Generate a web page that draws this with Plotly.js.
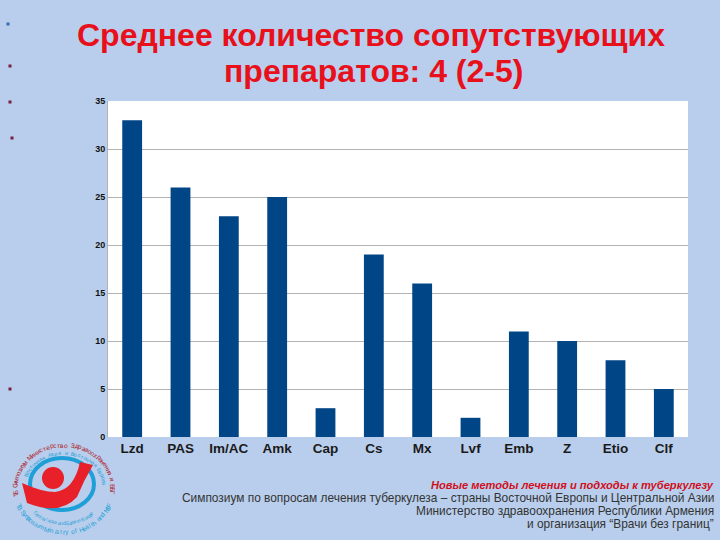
<!DOCTYPE html>
<html><head><meta charset="utf-8">
<script src="https://cdn.plot.ly/plotly-3.0.1.min.js"></script>
<style>html,body{margin:0;padding:0;background:#B8CEEC}</style></head>
<body><div id="chart" style="width:720px;height:540px"></div>
<script>
const categories = ["Lzd","PAS","Im/AC","Amk","Cap","Cs","Mx","Lvf","Emb","Z","Etio","Clf"];
const values = [33,26,23,25,3,19,16,2,11,10,8,5];
const yTicks = [0,5,10,15,20,25,30,35];
const titleLines = ["Среднее количество сопутствующих","препаратов: 4 (2-5)"];
const footerRed = "Новые методы лечения и подходы к туберкулезу";
const footerLines = ["Симпозиум по вопросам лечения туберкулеза – страны Восточной Европы и Центральной Азии",
  "Министерство здравоохранения Республики Армения","и организация “Врачи без границ”"];
const bulletsY = [24,66,102,138,389];
const bulletsX = [8,10,10,12,10];
const bulletsC = ["#2E6DB4","#7A1F3D","#7A1F3D","#7A1F3D","#7A1F3D"];
const logoTop = "ТБ Симпозиум Министерство Здравоохранения и ВБГ";
const logoInner = "Восточная Азия и Восточная Европа";
const logoBottom = "TB Symposium Ministry of Health and MSF";
const logoBottomInner = "Central Asia and Eastern Europe";

const W=720,H=540,L=108,R=688,T=101,B=437;
const fx=x=>(x-L)/(R-L), fy=y=>(B-y)/(B-T);
const shapes=[], annotations=[];
bulletsY.forEach((y,i)=>shapes.push({type:"rect",xref:"paper",yref:"paper",x0:fx(bulletsX[i]-1.5),x1:fx(bulletsX[i]+1.5),y0:fy(y+1.5),y1:fy(y-1.5),fillcolor:bulletsC[i],line:{width:0}}));
function ell(cx,cy,rx,ry,opt){shapes.push(Object.assign({type:"circle",xref:"paper",yref:"paper",x0:fx(cx-rx),x1:fx(cx+rx),y0:fy(cy+ry),y1:fy(cy-ry)},opt));}
ell(62,484,32,26,{fillcolor:"rgba(0,0,0,0)",line:{color:"#1E9FD8",width:4}});
ell(53,478,11,11,{fillcolor:"#E8202A",line:{width:0}});
shapes.push({type:"path",xref:"paper",yref:"paper",
  path:"M"+fx(22)+","+fy(483)+" L"+fx(27)+","+fy(503)+" Q"+fx(60)+","+fy(516)+" "+fx(77)+","+fy(497)+" Q"+fx(84)+","+fy(480)+" "+fx(93)+","+fy(465)+" L"+fx(80)+","+fy(462)+" Q"+fx(74)+","+fy(490)+" "+fx(55)+","+fy(492)+" Q"+fx(42)+","+fy(492)+" "+fx(22)+","+fy(483)+" Z",
  fillcolor:"#E8202A",line:{width:0}});
function arc(text,cx,cy,rx,ry,a0,a1,color,size,flip){
  const n=text.length;
  [...text].forEach((c,i)=>{
    const a=a0+(a1-a0)*(i+0.5)/n, rad=a*Math.PI/180;
    const x=cx+rx*Math.sin(rad), y=cy-ry*Math.cos(rad);
    annotations.push({xref:"paper",yref:"paper",x:fx(x),y:fy(y),text:c,showarrow:false,textangle:flip?a-180:a,
      xanchor:"center",yanchor:"middle",font:{family:"Liberation Sans",size:size,color:color}});
  });
}
arc(logoTop,64,488,49,43,-102,98,"#B0202A",6.5,false);
arc(logoInner,64,488,41,35,-70,85,"#1E9FD8",5.5,false);
arc(logoBottom,64,488,49,44,248,112,"#1E9FD8",6.5,true);
arc(logoBottomInner,64,488,40,35,225,135,"#1E9FD8",5,true);

const titleX=[371,373], titleY=[35,71];
titleLines.forEach((t,i)=>annotations.push({xref:"paper",yref:"paper",x:fx(titleX[i]),y:fy(titleY[i]),text:"<b>"+t+"</b>",showarrow:false,xanchor:"center",yanchor:"middle",
  font:{family:"Liberation Sans",size:32,color:"#E8101A"}}));
annotations.push({xref:"paper",yref:"paper",x:fx(716),y:fy(485),text:"<b><i>"+footerRed+"</i></b>",showarrow:false,xanchor:"right",yanchor:"middle",font:{family:"Liberation Sans",size:11.1,color:"#D0101C"}});
footerLines.forEach((t,i)=>annotations.push({xref:"paper",yref:"paper",x:fx(716),y:fy(498+13*i),text:t,showarrow:false,xanchor:"right",yanchor:"middle",font:{family:"Liberation Sans",size:11.9,color:"#333333"}}));

Plotly.newPlot("chart",[{type:"bar",x:categories,y:values,marker:{color:"#004586",line:{width:0}},width:0.41,hoverinfo:"skip"}],{
  width:W,height:H,margin:{l:L,r:W-R,t:T,b:H-B,pad:0},
  paper_bgcolor:"#B8CEEC",plot_bgcolor:"#FFFFFF",showlegend:false,
  xaxis:{type:"category",categoryorder:"array",categoryarray:categories,ticks:"",showgrid:false,showline:false,automargin:false,
    tickvals:categories,ticktext:categories.map(c=>"<b>"+c+"</b>"),
    tickfont:{family:"Liberation Sans",size:13.5,color:"#1a1a1a"},ticklabelstandoff:1},
  yaxis:{range:[0,35],tickvals:yTicks,ticktext:yTicks.map(v=>"<b>"+v+"</b>"),showgrid:true,gridcolor:"#B3B3B3",gridwidth:1,zeroline:false,
    showline:true,linecolor:"#B3B3B3",linewidth:1,ticks:"",automargin:false,tickfont:{family:"Liberation Sans",size:9,color:"#111"}},
  shapes,annotations
},{displayModeBar:false});
</script></body></html>
